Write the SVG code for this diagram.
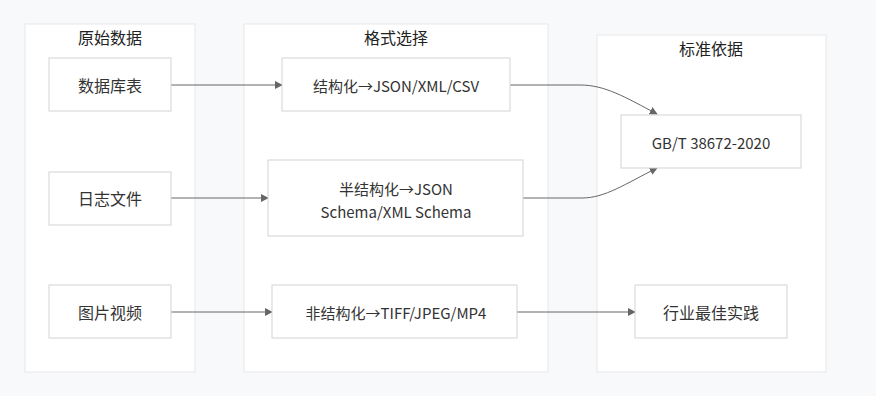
<svg xmlns="http://www.w3.org/2000/svg" width="876" height="396" viewBox="0 0 876 396">
<style>
.cluster{fill:#ffffff;stroke:#e8e8ea;stroke-width:1}
.node rect{fill:#ffffff;stroke:#d3d3d3;stroke-width:1}
text{font-family:"Noto Sans CJK SC","Noto Sans",sans-serif;font-size:16px;fill:#333333;text-anchor:middle;dominant-baseline:central}
text.mix{font-size:15px}
.title{fill:#222222}
.edge{fill:none;stroke:#666666;stroke-width:1}
</style>
<defs>
<marker id="arr" viewBox="0 0 10 10" refX="9" refY="5" markerWidth="8" markerHeight="8" markerUnits="userSpaceOnUse" orient="auto">
<path d="M0,0 L10,5 L0,10 z" fill="#666666"/>
</marker>
</defs>
<rect x="0" y="0" width="876" height="396" fill="#f8f9fa"/>
<g id="cluster-raw">
<rect class="cluster" x="25" y="24" width="170" height="348"/>
<text class="title" x="110" y="37">原始数据</text>
</g>
<g id="cluster-format">
<rect class="cluster" x="244" y="24" width="304" height="348"/>
<text class="title" x="396" y="37">格式选择</text>
</g>
<g id="cluster-standard">
<rect class="cluster" x="597" y="35" width="229" height="337"/>
<text class="title" x="711" y="48">标准依据</text>
</g>
<g id="connectors">
<path class="edge" d="M171,85 L282,85" marker-end="url(#arr)"/>
<path class="edge" d="M171,198 L268,198" marker-end="url(#arr)"/>
<path class="edge" d="M171,312 L272,312" marker-end="url(#arr)"/>
<path class="edge" d="M510,85 L580,85 C605,85 625,97 657,114" marker-end="url(#arr)"/>
<path class="edge" d="M523,198 L582,198 C605,198 625,184 657,168" marker-end="url(#arr)"/>
<path class="edge" d="M517,312 L635,312" marker-end="url(#arr)"/>
</g>
<g id="node-db" class="node">
<rect x="49" y="58" width="122" height="53"/>
<text x="110" y="85">数据库表</text>
</g>
<g id="node-log" class="node">
<rect x="49" y="172" width="122" height="53"/>
<text x="110" y="198">日志文件</text>
</g>
<g id="node-media" class="node">
<rect x="49" y="285" width="122" height="53"/>
<text x="110" y="312">图片视频</text>
</g>
<g id="node-structured" class="node">
<rect x="282" y="58" width="228" height="53"/>
<text class="mix" x="396" y="85">结构化→JSON/XML/CSV</text>
</g>
<g id="node-semi" class="node">
<rect x="268" y="160" width="255" height="76"/>
<text class="mix" x="396" y="188">半结构化→JSON</text>
<text class="mix" x="396" y="211">Schema/XML Schema</text>
</g>
<g id="node-unstructured" class="node">
<rect x="272" y="285" width="245" height="53"/>
<text class="mix" x="396" y="312">非结构化→TIFF/JPEG/MP4</text>
</g>
<g id="node-gbt" class="node">
<rect x="621" y="115" width="180" height="53"/>
<text class="mix" x="711" y="142">GB/T 38672-2020</text>
</g>
<g id="node-best" class="node">
<rect x="635" y="285" width="152" height="53"/>
<text x="711" y="312">行业最佳实践</text>
</g>
</svg>
